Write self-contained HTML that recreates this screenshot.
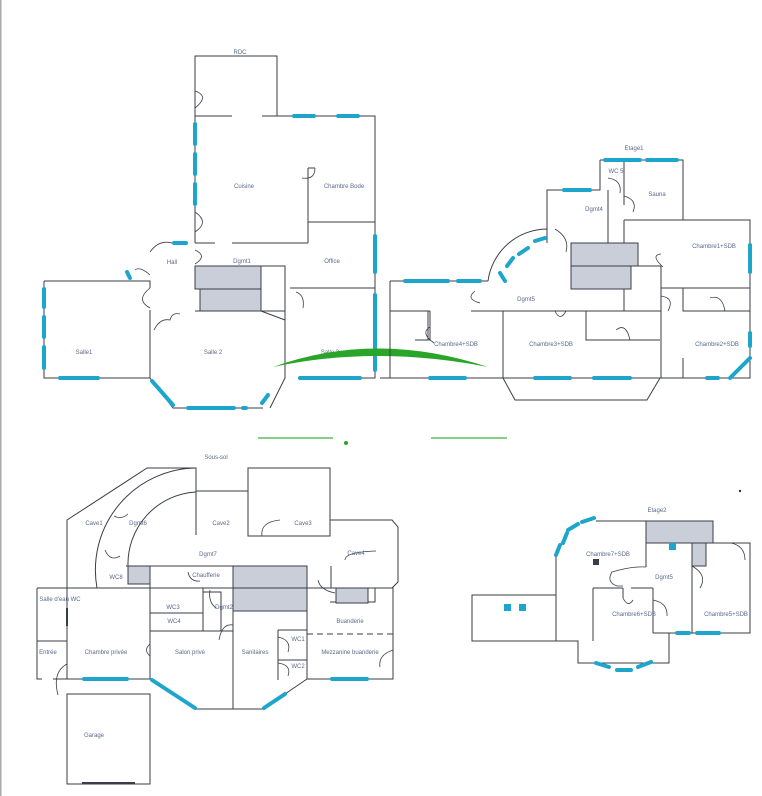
<!DOCTYPE html>
<html><head><meta charset="utf-8"><style>
html,body{margin:0;padding:0;background:#fff}
svg{display:block}
.w{fill:none;stroke:#3a3e48;stroke-width:1}
.d{fill:none;stroke:#3a3e48;stroke-width:0.8}
.n{fill:none;stroke:#1ea5cc;stroke-width:4;stroke-linecap:round}
.g{fill:#c9ced8;stroke:#3a3e48;stroke-width:1}
text{font-family:"Liberation Sans",sans-serif;font-size:6px;fill:#5a6a8a;text-anchor:middle}
</style></head><body>
<svg width="762" height="796" viewBox="0 0 762 796" xmlns="http://www.w3.org/2000/svg">
<rect x="0" y="0" width="1.5" height="796" fill="#aaa"/>
<!-- ===== RDC ===== -->
<text x="240" y="54">RDC</text>
<path class="w" d="M195 116 V56 H277 V116 M195 116 H232 M262 116 H375 V378 H300 M195 116 V243 M308 168 V222 H375 M308 168 H315 M308 222 V243 M308 288 H375 M290 288 H308 M195 243 H215 M232 243 H308"/>
<path class="w" d="M44 281 H150 V288 M44 281 V378 H150 V378 M150 310 V378 M150 378 L173 408 H263 M270 408 L285 378 V300"/>
<path class="d" d="M195 91 Q210 96 195 108 M195 212 Q210 222 195 232 M195 250 Q208 256 195 264 M315 168 Q315 180 302 178 M296 292 Q305 295 303 308 M150 288 Q135 300 150 308 M154 330 Q160 318 170 320 Q172 312 180 314 M150 275 Q140 266 135 270 M175 244 Q160 238 150 252"/>
<rect class="g" x="195" y="266" width="66" height="23"/>
<rect class="g" x="200" y="289" width="61" height="22"/>
<path class="w" d="M261 266 H285 V311 H195 M261 311 L285 320"/>
<path class="n" d="M294 116 H314 M338 116 H358 M195 124 V144 M195 154 V174 M195 184 V204 M174 243 H186 M130 278 L127 272 M44 289 V307 M44 317 V337 M44 347 V368 M60 378 H98 M152 381 L173 405 M188 408 H234 M243 408 H246 M262 403 L268 395 M300 378 H360 M375 236 V272 M375 295 V370"/>
<text x="244" y="188">Cuisine</text>
<text x="344" y="188">Chambre Bode</text>
<text x="242" y="263">Dgmt1</text>
<text x="172" y="264">Hall</text>
<text x="332" y="263">Office</text>
<text x="84" y="354">Salle1</text>
<text x="213" y="354">Salle 2</text>
<text x="330" y="354">Salle 3</text>
<!-- green -->
<path d="M273 367 Q375 330 488 367 Q375 345 273 367 Z" fill="#2aa52a"/>
<path d="M258 438 H333 M431 438 H507" stroke="#3cb43c" stroke-width="1.2"/>
<circle cx="346" cy="443" r="2" fill="#2aa52a"/>
<!-- ===== Etage1 ===== -->
<text x="634" y="150">Etage1</text>
<path class="w" d="M390 281 V378 H750 V220 H720 M624 220 H750 M600 160 H683 V220 M600 160 V190 H547 V243 M608 190 V243 M624 160 V205 M624 220 V243 H638 M488 281 H390 M488 281 A60 60 0 0 1 547 229 M547 229 V243 M503 311 H661 V378 M390 311 H430 M415 340 H430 V311 M428 311 V340 M503 311 V378 M503 378 L515 400 H647 L660 378 M586 311 V340 H660 M661 288 V311 M661 288 H750 M683 288 V311 H750 M471 311 H503 M624 288 V311 M571 243 H638 V266 H661 V288 M380 378 H390 M683 358 V378"/>
<rect class="g" x="571" y="243" width="67" height="23"/>
<rect class="g" x="571" y="266" width="60" height="23"/>
<path class="d" d="M608 178 Q622 180 620 193 M624 196 Q638 200 633 212 M555 229 Q570 238 566 252 M661 254 Q650 255 663 267 M661 296 Q675 298 668 311 M475 291 Q465 299 480 303 M430 327 Q420 333 434 343 M555 311 Q560 322 566 311 M616 330 Q626 322 630 340 M710 298 Q722 294 725 311"/>
<path class="n" d="M605 160 H640 M647 160 H677 M564 190 H590 M535 241 L545 238 M519 254 L528 248 M507 266 L513 258 M505 281 L500 273 M405 281 H448 M458 281 H480 M430 378 H465 M535 378 H570 M594 378 H630 M707 378 H718 M750 245 V272 M750 333 V346 M730 378 L750 358"/>
<text x="594" y="211">Dgmt4</text>
<text x="616" y="173">WC 5</text>
<text x="657" y="196">Sauna</text>
<text x="714" y="248">Chambre1+SDB</text>
<text x="526" y="301">Dgmt5</text>
<text x="456" y="346">Chambre4+SDB</text>
<text x="551" y="346">Chambre3+SDB</text>
<text x="717" y="346">Chambre2+SDB</text>
<!-- ===== Sous-sol ===== -->
<text x="216" y="459">Sous-sol</text>
<path class="w" d="M67 588 V520 L147 468 H196 V535 M196 491 H248 M248 468 H330 V536 H248 Z M330 520 H392 L398 527 V582 L392 588 M37 588 H393 V679 H307 M37 588 V679 H42 M37 641 H67 M67 588 V679 M53 679 H150 M67 679 V672 M150 588 V679 M150 679 L196 709 H263 L307 679 M233 611 H307 M150 631 H233 M233 611 V709 M307 611 V679 M278 630 V680 M278 630 H307 M278 660 H307 M150 566 V588 M126 566 H307 V588 M203 588 V631 M150 613 H203 M203 592 H221 V631 M331 566 V588 M330 602 H375 V588"/>
<path class="w" d="M97 588 A102 102 0 0 1 196 468 M128 566 A72 72 0 0 1 196 492"/>
<path class="d" d="M67 664 Q52 672 58 695 M150 644 Q143 650 150 656 M335 593 Q320 590 318 580 M376 551 Q345 552 345 560 M188 572 Q190 582 200 581 M280 520 Q260 522 262 536 M210 590 Q208 602 216 608 M233 625 Q222 623 219 640 M278 637 Q292 640 288 652 M278 663 Q292 665 288 676 M393 650 Q378 655 380 667 M114 516 Q121 520 128 514 M105 550 Q110 562 120 556"/>
<rect class="g" x="128" y="566" width="22" height="18"/>
<rect class="g" x="233" y="566" width="74" height="22"/>
<rect class="g" x="233" y="588" width="74" height="23"/>
<rect class="g" x="336" y="588" width="32" height="15"/>
<path d="M307 634 H393" stroke="#3a3e48" stroke-width="1" stroke-dasharray="6 4"/>
<rect x="66" y="608" width="2" height="18" fill="#3a3e48"/>
<path d="M82 783 H135" stroke="#3a3e48" stroke-width="2"/>
<rect class="w" x="67" y="694" width="83" height="90"/>
<path class="n" d="M84 679 H127 M152 680 L195 708 M264 708 L285 694 M332 679 H367"/>
<text x="94" y="525">Cave1</text>
<text x="138" y="525">Dgmt6</text>
<text x="221" y="525">Cave2</text>
<text x="303" y="525">Cave3</text>
<text x="356" y="555">Cave4</text>
<text x="208" y="556">Dgmt7</text>
<text x="206" y="577">Chaufferie</text>
<text x="116" y="579">WC8</text>
<text x="60" y="601">Salle d'eau WC</text>
<text x="173" y="609">WC3</text>
<text x="174" y="623">WC4</text>
<text x="224" y="609">Dgmt2</text>
<text x="350" y="623">Buanderie</text>
<text x="298" y="641">WC1</text>
<text x="298" y="668">WC2</text>
<text x="48" y="654">Entrée</text>
<text x="106" y="654">Chambre privée</text>
<text x="190" y="654">Salon privé</text>
<text x="255" y="654">Sanitaires</text>
<text x="350" y="654">Mezzanine buanderie</text>
<text x="94" y="737">Garage</text>
<!-- ===== Etage2 ===== -->
<text x="657" y="512">Etage2</text>
<path class="w" d="M556 641 V555 M596 521 H646 V567 M472 595 H556 V641 H472 Z M556 641 H578 V663 H669 V633 H750 V543 H713 M593 588 V641 M593 588 H623 M623 588 V598 M653 588 V633 M653 633 H669 M692 566 V633 M646 521 H713 V543 M631 588 H653"/>
<rect class="g" x="646" y="521" width="67" height="22"/>
<rect class="g" x="692" y="543" width="14" height="23"/>
<path class="d" d="M646 567 Q632 566 612 572 Q606 582 617 586 L623 586 M731 543 Q745 546 745 560 M692 566 Q708 575 700 588 M623 598 Q628 608 633 600 M653 600 Q668 603 667 616"/>
<rect x="593" y="559" width="6" height="6" fill="#3a3e48"/>
<rect x="669" y="543" width="7" height="7" fill="#1ea5cc"/>
<rect x="504" y="604" width="7" height="7" fill="#1ea5cc"/>
<rect x="519" y="604" width="7" height="7" fill="#1ea5cc"/>
<path class="n" d="M582 522 L594 518 M568 530 L578 524 M563 543 L567 533 M556 555 L560 545 M596 663 L609 667 M617 670 H631 M638 667 L651 662 M677 633 H689 M697 633 H719"/>
<text x="608" y="556">Chambre7+SDB</text>
<text x="664" y="579">Dgmt5</text>
<text x="634" y="616">Chambre6+SDB</text>
<text x="726" y="616">Chambre5+SDB</text>
<circle cx="740" cy="491" r="1.2" fill="#333"/>
</svg>
</body></html>
